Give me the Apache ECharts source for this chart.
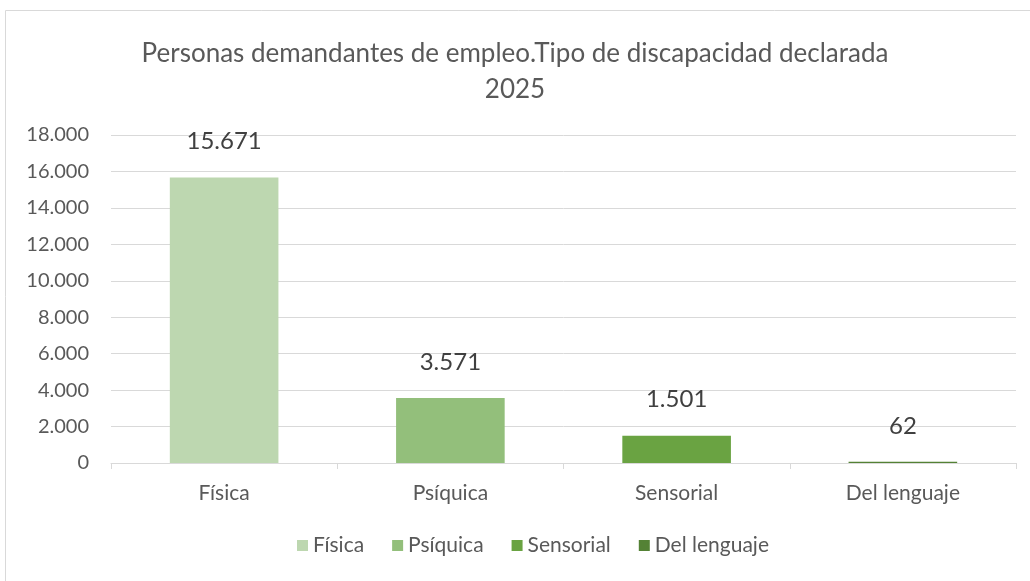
<!DOCTYPE html>
<html>
<head>
<meta charset="utf-8">
<script src="https://cdn.jsdelivr.net/npm/echarts@6/dist/echarts.min.js"></script>
<style>
  html, body { margin: 0; padding: 0; background: #fff; }
  #main { width: 1030px; height: 581px; }
</style>
</head>
<body>
<div id="main"></div>
<script>
var categories = ['Física', 'Psíquica', 'Sensorial', 'Del lenguaje'];
var values = [15671, 3571, 1501, 62];
var colors = ['#bdd7b0', '#93bf7b', '#6aa342', '#548235'];
var yTicks = { min: 0, max: 18000, interval: 2000 };

function fmtNum(v) {
    return String(v).replace(/\B(?=(\d{3})+(?!\d))/g, '.');
}

var myChart = echarts.init(document.getElementById('main'));

var series = categories.map(function (name, i) {
    var data = categories.map(function (c, j) { return j === i ? values[i] : '-'; });
    return {
        name: name,
        type: 'bar',
        stack: 'total',
        barWidth: '48%',
        data: data,
        itemStyle: { color: colors[i] },
        label: {
            show: true,
            position: 'top',
            distance: 24,
            color: '#404040',
            fontSize: 24,
            fontFamily: 'Lato',
            formatter: function (p) { return fmtNum(p.value); }
        }
    };
});

var option = {
    animation: false,
    textStyle: { fontFamily: 'Lato' },
    graphic: [{
        type: 'rect',
        shape: { x: 5.5, y: 10.5, width: 1040, height: 600 },
        style: { fill: 'none', stroke: '#d9d9d9', lineWidth: 1 },
        silent: true
    }],
    title: {
        text: 'Personas demandantes de empleo.Tipo de discapacidad declarada\n2025',
        left: 'center',
        top: 31,
        textStyle: {
            color: '#595959',
            fontSize: 26,
            fontWeight: 'normal',
            fontFamily: 'Lato',
            lineHeight: 36
        }
    },
    legend: {
        bottom: 20,
        left: 292,
        itemWidth: 11,
        itemHeight: 11,
        itemGap: 28,
        icon: 'rect',
        textStyle: { color: '#595959', fontSize: 21, fontFamily: 'Lato' },
        data: categories
    },
    grid: { left: 111, right: 14, top: 135, bottom: 118 },
    xAxis: {
        type: 'category',
        data: categories,
        axisLine: { lineStyle: { color: '#d9d9d9', width: 1 } },
        axisTick: { show: true, alignWithLabel: false, length: 6, lineStyle: { color: '#d9d9d9' } },
        axisLabel: { color: '#595959', fontSize: 21, margin: 20, fontFamily: 'Lato' }
    },
    yAxis: {
        type: 'value',
        min: yTicks.min,
        max: yTicks.max,
        interval: yTicks.interval,
        axisLine: { show: false },
        axisTick: { show: false },
        splitLine: { lineStyle: { color: '#d9d9d9', width: 1 } },
        axisLabel: {
            color: '#595959',
            fontSize: 20,
            margin: 22,
            fontFamily: 'Lato',
            formatter: function (v) { return fmtNum(v); }
        }
    },
    series: series
};

myChart.setOption(option);
window.onresize = myChart.resize;
</script>
</body>
</html>
